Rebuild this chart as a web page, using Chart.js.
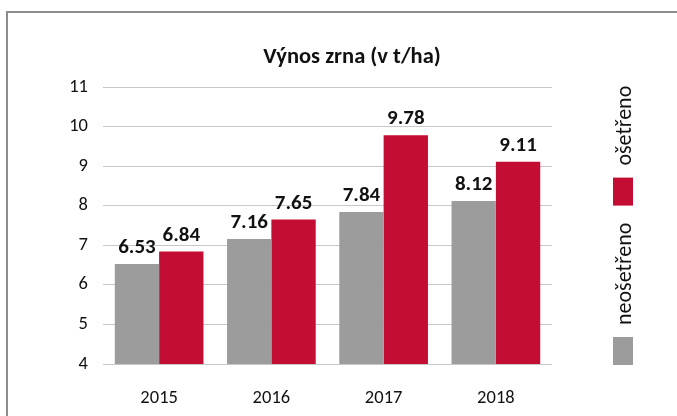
<!DOCTYPE html>
<html>
<head>
<meta charset="utf-8">
<title>Výnos zrna</title>
<script src="https://cdn.jsdelivr.net/npm/chart.js"></script>
<style>
  html, body { margin: 0; padding: 0; background: #fff; }
  #wrap { position: relative; width: 677px; height: 416px; overflow: hidden; }
  #frame { position: absolute; left: 6px; top: 11px; width: 700px; height: 440px;
           border-top: 2px solid #8c8c8c; border-left: 2px solid #8c8c8c; }
  canvas { position: absolute; left: 0; top: 0; }
</style>
</head>
<body>
<div id="wrap">
  <div id="frame"></div>
  <canvas id="chart" width="677" height="416"></canvas>
</div>
<script>
// data
const roky = ['2015', '2016', '2017', '2018'];
const neosetreno = [6.53, 7.16, 7.84, 8.12];
const osetreno = [6.84, 7.65, 9.78, 9.11];
const osaY = [4, 5, 6, 7, 8, 9, 10, 11];

const FONT = 'Carlito, Lato, "Open Sans", sans-serif';

// hodnoty nad sloupci
const popisky = {
  id: 'popisky',
  afterDatasetsDraw(chart) {
    const ctx = chart.ctx;
    ctx.save();
    ctx.font = 'bold 21px ' + FONT;
    ctx.fillStyle = '#111';
    ctx.textAlign = 'center';
    ctx.textBaseline = 'alphabetic';
    chart.data.datasets.forEach((ds, i) => {
      chart.getDatasetMeta(i).data.forEach((bar, j) => {
        ctx.fillText(ds.data[j].toFixed(2), bar.x, bar.y - 11);
      });
    });
    ctx.restore();
  }
};

// nadpis a svislá legenda vpravo
const nadpisLegenda = {
  id: 'nadpisLegenda',
  afterDraw(chart) {
    const ctx = chart.ctx;
    ctx.save();
    ctx.font = 'bold 22.5px ' + FONT;
    ctx.fillStyle = '#111';
    ctx.textAlign = 'center';
    ctx.textBaseline = 'middle';
    ctx.fillText('Výnos zrna (v t/ha)', 352, 57);

    ctx.font = '22px ' + FONT;
    let y = 365;
    chart.data.datasets.forEach(ds => {
      ctx.fillStyle = ds.backgroundColor;
      ctx.fillRect(613, y - 28, 20, 28);
      y -= 28 + 12;
      ctx.save();
      ctx.translate(625, y);
      ctx.rotate(-Math.PI / 2);
      ctx.fillStyle = '#111';
      ctx.textAlign = 'left';
      ctx.textBaseline = 'middle';
      ctx.fillText(ds.label, 0, 0);
      ctx.restore();
      y -= ctx.measureText(ds.label).width + 17;
    });
    ctx.restore();
  }
};

new Chart(document.getElementById('chart'), {
  type: 'bar',
  data: {
    labels: roky,
    datasets: [
      { label: 'neošetřeno', data: neosetreno, backgroundColor: '#9c9c9c' },
      { label: 'ošetřeno', data: osetreno, backgroundColor: '#c30d33' }
    ]
  },
  options: {
    responsive: false,
    animation: false,
    events: [],
    layout: { padding: { top: 87, right: 125, left: 0, bottom: 0 } },
    datasets: { bar: { barPercentage: 1, categoryPercentage: 0.79 } },
    plugins: { legend: { display: false }, title: { display: false }, tooltip: { enabled: false } },
    scales: {
      x: {
        afterFit: s => { s.height = 52; },
        grid: { display: false },
        border: { display: false },
        ticks: { color: '#111', font: { family: FONT, size: 18.5 }, padding: 15 }
      },
      y: {
        min: osaY[0],
        max: osaY[osaY.length - 1],
        afterFit: s => { s.width = 103; },
        afterBuildTicks: s => { s.ticks = osaY.map(v => ({ value: v })); },
        grid: { color: '#c8c8c8', lineWidth: 1, drawTicks: false },
        border: { display: false },
        ticks: { color: '#111', font: { family: FONT, size: 18.5 }, padding: 15 }
      }
    }
  },
  plugins: [popisky, nadpisLegenda]
});
</script>
</body>
</html>
